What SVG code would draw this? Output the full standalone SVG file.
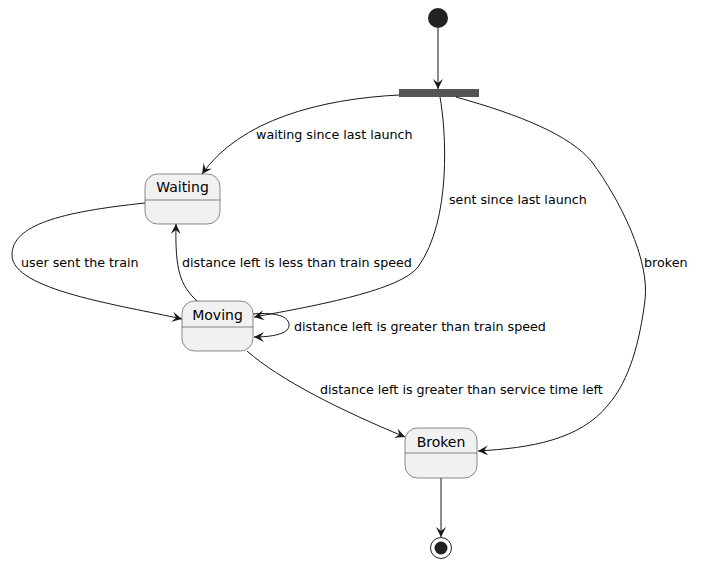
<svg xmlns="http://www.w3.org/2000/svg" width="726" height="567" viewBox="0 0 726 567">
<style>
.st{fill:#F1F1F1;stroke:#181818;stroke-width:0.5}
.nm{font-family:"DejaVu Sans",sans-serif;font-size:14px;fill:#000;text-anchor:middle}
.lb{font-family:"DejaVu Sans",sans-serif;font-size:12.7px;fill:#000}
.e{fill:none;stroke:#181818;stroke-width:1;marker-end:url(#ah)}
</style>
<defs>
<marker id="ah" viewBox="0 0 10 10" refX="10" refY="5" markerWidth="10" markerHeight="10" markerUnits="userSpaceOnUse" orient="auto">
<path d="M0,0 L10,5 L0,10 L4,5 Z" fill="#181818"/>
</marker>
</defs>
<g id="start"><circle cx="438" cy="18" r="10" fill="#222222"/></g>
<g id="fork"><rect x="399" y="89" width="80" height="8" fill="#555555"/></g>
<g id="Waiting">
<rect class="st" x="145" y="174" width="75" height="50" rx="12.5"/>
<line x1="145" y1="200" x2="220" y2="200" stroke="#181818" stroke-width="0.5"/>
<text class="nm" x="182.5" y="192">Waiting</text>
</g>
<g id="Moving">
<rect class="st" x="182" y="301" width="71" height="50" rx="12.5"/>
<line x1="182" y1="327" x2="253" y2="327" stroke="#181818" stroke-width="0.5"/>
<text class="nm" x="217.5" y="320">Moving</text>
</g>
<g id="Broken">
<rect class="st" x="405" y="428" width="72" height="50" rx="12.5"/>
<line x1="405" y1="453" x2="477" y2="453" stroke="#181818" stroke-width="0.5"/>
<text class="nm" x="441" y="447">Broken</text>
</g>
<g id="end">
<circle cx="441" cy="548" r="10.5" fill="none" stroke="#222222" stroke-width="1"/>
<circle cx="441" cy="548" r="6.5" fill="#222222"/>
</g>
<g id="connectors">
<path class="e" d="M438,28 L438,89"/>
<path class="e" d="M399,95 C320,99 240,120 202,174"/>
<path class="e" d="M440,97 C446,130 452,220 418,267 C400,290 320,305 254,317"/>
<path class="e" d="M456,97 C520,115 570,135 592,162 C620,200 650,260 645,300 C640,340 630,380 608,405 C580,440 530,448 478,451"/>
<path class="e" d="M145,203 C60,212 12,225 12,255 C12,290 120,305 182,319"/>
<path class="e" d="M197,301 C180,285 175,270 176,224"/>
<path class="e" d="M253,314 C275,312 290,316 289,326 C288,334 272,337 254,337"/>
<path class="e" d="M247,351 C280,380 340,410 405,437"/>
<path class="e" d="M441,478 L441,537"/>
</g>
<g id="labels">
<text class="lb" x="256" y="139">waiting since last launch</text>
<text class="lb" x="449" y="204">sent since last launch</text>
<text class="lb" x="644" y="267">broken</text>
<text class="lb" x="21" y="267">user sent the train</text>
<text class="lb" x="182" y="267">distance left is less than train speed</text>
<text class="lb" x="294" y="331">distance left is greater than train speed</text>
<text class="lb" x="320" y="394">distance left is greater than service time left</text>
</g>
</svg>
